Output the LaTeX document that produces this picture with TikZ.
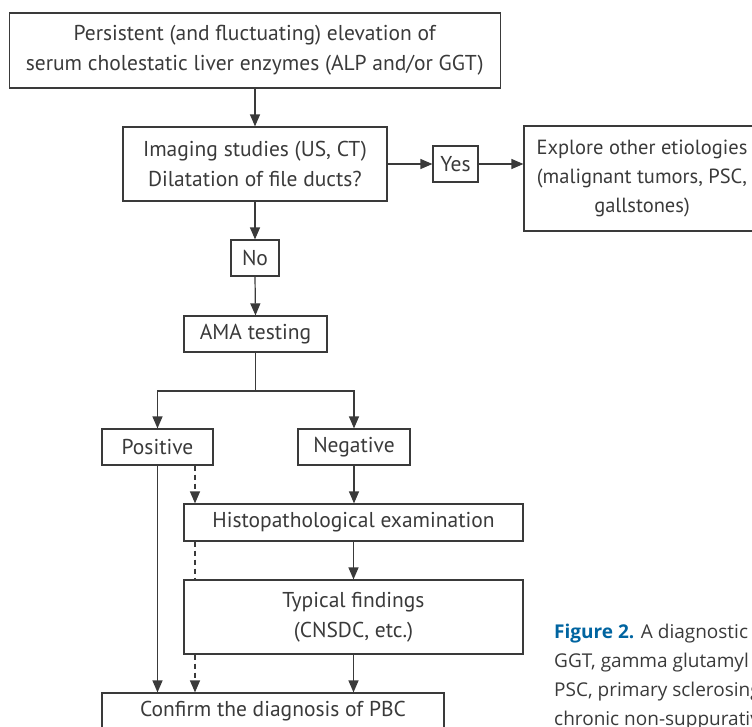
\documentclass[tikz,border=0pt]{standalone}
\usepackage{fontspec}
\setmainfont{PT Sans}
\newfontfamily\capfont{Open Sans}
\usetikzlibrary{arrows.meta}
\definecolor{inkgray}{RGB}{58,58,58}
\definecolor{figblue}{RGB}{0,100,160}
\tikzset{
  box/.style={draw=inkgray,line width=1.2pt,text=inkgray,inner sep=0pt,align=center,font=\fontsize{21.5}{30}\selectfont},
  arr/.style={draw=inkgray,line width=1.2pt,-{Triangle[length=12pt,width=10pt]}},
  dsh/.style={draw=inkgray,line width=1.2pt,dash pattern=on 5pt off 4pt},
  captext/.style={anchor=base west,inner sep=0pt,text=inkgray,font=\capfont\fontsize{19}{24}\selectfont}
}
\begin{document}
\begin{tikzpicture}[x=1pt,y=-1pt]
\useasboundingbox (0,0) rectangle (752,726);
% boxes
\node[box,minimum width=491pt,minimum height=75pt] (top) at (254.7,50.5) {Persistent (and fluctuating) elevation of\\serum cholestatic liver enzymes (ALP and/or GGT)};
\node[box,minimum width=264pt,minimum height=74pt] (img) at (255,164) {Imaging studies (US, CT)\\Dilatation of file ducts?};
\node[box,minimum width=45pt,minimum height=36pt] (yes) at (455.5,164) {Yes};
\node[box,minimum width=236pt,minimum height=105pt,font=\fontsize{20.5}{29}\selectfont] (expl) at (642,178.5) {Explore other etiologies\\(malignant tumors, PSC,\\gallstones)};
\node[box,minimum width=48pt,minimum height=36pt] (no) at (255,258) {No};
\node[box,minimum width=143pt,minimum height=36pt] (ama) at (255.5,334) {AMA testing};
\node[box,minimum width=111pt,minimum height=36pt] (pos) at (157.5,447) {Positive};
\node[box,minimum width=112pt,minimum height=36pt] (neg) at (354,447) {Negative};
\node[box,minimum width=339pt,minimum height=37pt] (histo) at (353.5,522.5) {Histopathological examination};
\node[box,minimum width=339pt,minimum height=74pt] (typ) at (353.5,617) {Typical findings\\(CNSDC, etc.)};
\node[box,minimum width=342pt,minimum height=36pt] (conf) at (273,711) {Confirm the diagnosis of PBC};
\coordinate (brk) at (255.5,391);
\coordinate (dx) at (195,0);
% connectors
\draw[arr] (top.south -| img.north) -- (img.north);
\draw[arr] (img.east) -- (yes.west);
\draw[arr] (yes.east) -- (expl.west |- yes.east);
\draw[arr] (img.south) -- (no.north);
\draw[arr] (no.south) -- (ama.north);
\draw[draw=inkgray,line width=1.2pt] (ama.south) -- (brk);
\draw[arr] (brk) -| (pos.north);
\draw[arr] (brk) -| (neg.north);
\draw[arr] (pos.south) -- (pos.south |- conf.north);
\draw[arr] (neg.south) -- (neg.south |- histo.north);
\draw[arr] (histo.south) -- (typ.north);
\draw[arr] (typ.south) -- (typ.south |- conf.north);
\draw[dsh,-{Triangle[length=12pt,width=10pt]}] (pos.south -| dx) -- (histo.north -| dx);
\draw[dsh] (histo.south -| dx) -- (typ.north -| dx);
\draw[dsh,-{Triangle[length=12pt,width=10pt]}] (typ.south -| dx) -- (conf.north -| dx);
% caption
\node[captext] (cap1) at (554,638) {\textcolor{figblue}{\bfseries Figure 2.} A diagnostic};
\node[captext] (cap2) at (554,667) {GGT, gamma glutamyl transferase;};
\node[captext] (cap3) at (554,696) {PSC, primary sclerosing};
\node[captext] (cap4) at (554,725) {chronic non-suppurative};
\end{tikzpicture}
\end{document}
